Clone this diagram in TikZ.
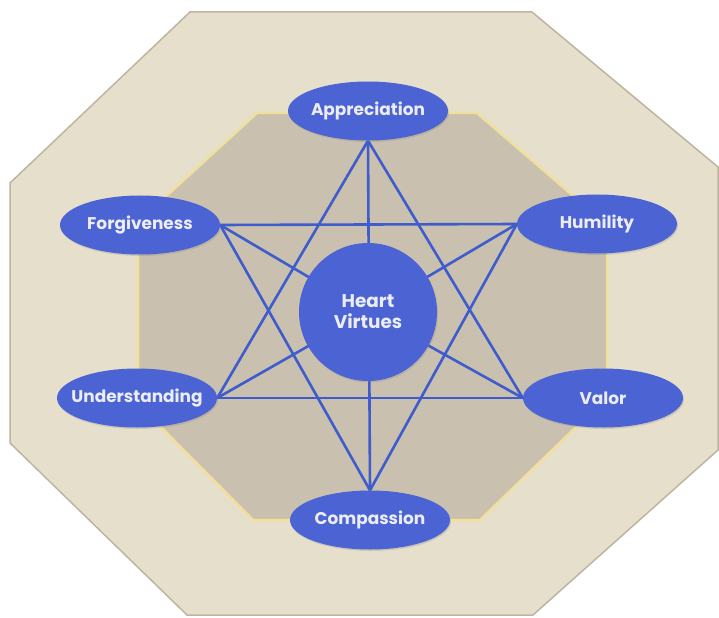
\documentclass[tikz,border=0pt]{standalone}
\usepackage{fontspec}
\setmainfont{Poppins}
\usetikzlibrary{shapes.geometric,shadows}
\pgfdeclarelayer{back}
\pgfdeclarelayer{mid}
\pgfsetlayers{back,mid,main}
\definecolor{outerfill}{HTML}{E6DFCB}
\definecolor{outerline}{HTML}{BDB4A2}
\definecolor{innerfill}{HTML}{C9C0AF}
\definecolor{innerline}{HTML}{F0E09C}
\definecolor{vblue}{HTML}{4B63D3}
\definecolor{lblue}{HTML}{3F5CCD}
\definecolor{vtext}{HTML}{ECECF4}
\tikzset{
  virtue/.style={ellipse, fill=vblue, minimum width=160bp, minimum height=59bp,
    inner xsep=-12bp, inner ysep=0pt, text=vtext,
    drop shadow={opacity=0.25, shadow xshift=1bp, shadow yshift=-1.5bp},
    font=\bfseries\fontsize{17}{19}\selectfont},
  hub/.style={circle, fill=vblue, minimum size=138bp, inner sep=0pt, text=vtext,
    drop shadow={opacity=0.25, shadow xshift=1bp, shadow yshift=-1.5bp},
    align=center, font=\bfseries\fontsize{18.5}{21}\selectfont},
  link/.style={draw=lblue, line width=2.6bp},
}
\begin{document}
\begin{tikzpicture}[x=1bp,y=-1bp]
\useasboundingbox (0,0) rectangle (719,618);
\begin{pgfonlayer}{back}
% outer octagon
\draw[fill=outerfill, draw=outerline, line width=1.5bp]
  (190,12) -- (532,12) -- (718,167) -- (718,450) -- (533,615) -- (187,615) -- (10,443) -- (10,183) -- cycle;
% inner octagon
\draw[fill=innerfill, draw=innerline, line width=2.5bp]
  (257,113) -- (477,113) -- (607,225) -- (607,397) -- (480,520) -- (253,520) -- (138,404) -- (138,222) -- cycle;
\end{pgfonlayer}
% nodes
\node[virtue] (app) at (368,111) {Appreciation};
\node[virtue] (for) at (140,225) {Forgiveness};
\node[virtue] (hum) at (597,224) {Humility};
\node[virtue] (und) at (137,398) {Understanding};
\node[virtue] (val) at (603,398) {Valor};
\node[virtue] (com) at (370,520) {Compassion};
\node[hub] (hv) at (368,312) {Heart\\Virtues};
% links
\begin{pgfonlayer}{mid}
\draw[link] (app.south) -- (com.north);
\draw[link] (app.south) -- (und.east);
\draw[link] (app.south) -- (val.west);
\draw[link] (for.east) -- (hum.west);
\draw[link] (for.east) -- (com.north);
\draw[link] (hum.west) -- (com.north);
\draw[link] (und.east) -- (val.west);
\draw[link] (for.east) -- (hv.center);
\draw[link] (hum.west) -- (hv.center);
\draw[link] (und.east) -- (hv.center);
\draw[link] (val.west) -- (hv.center);
\end{pgfonlayer}
\end{tikzpicture}
\end{document}
